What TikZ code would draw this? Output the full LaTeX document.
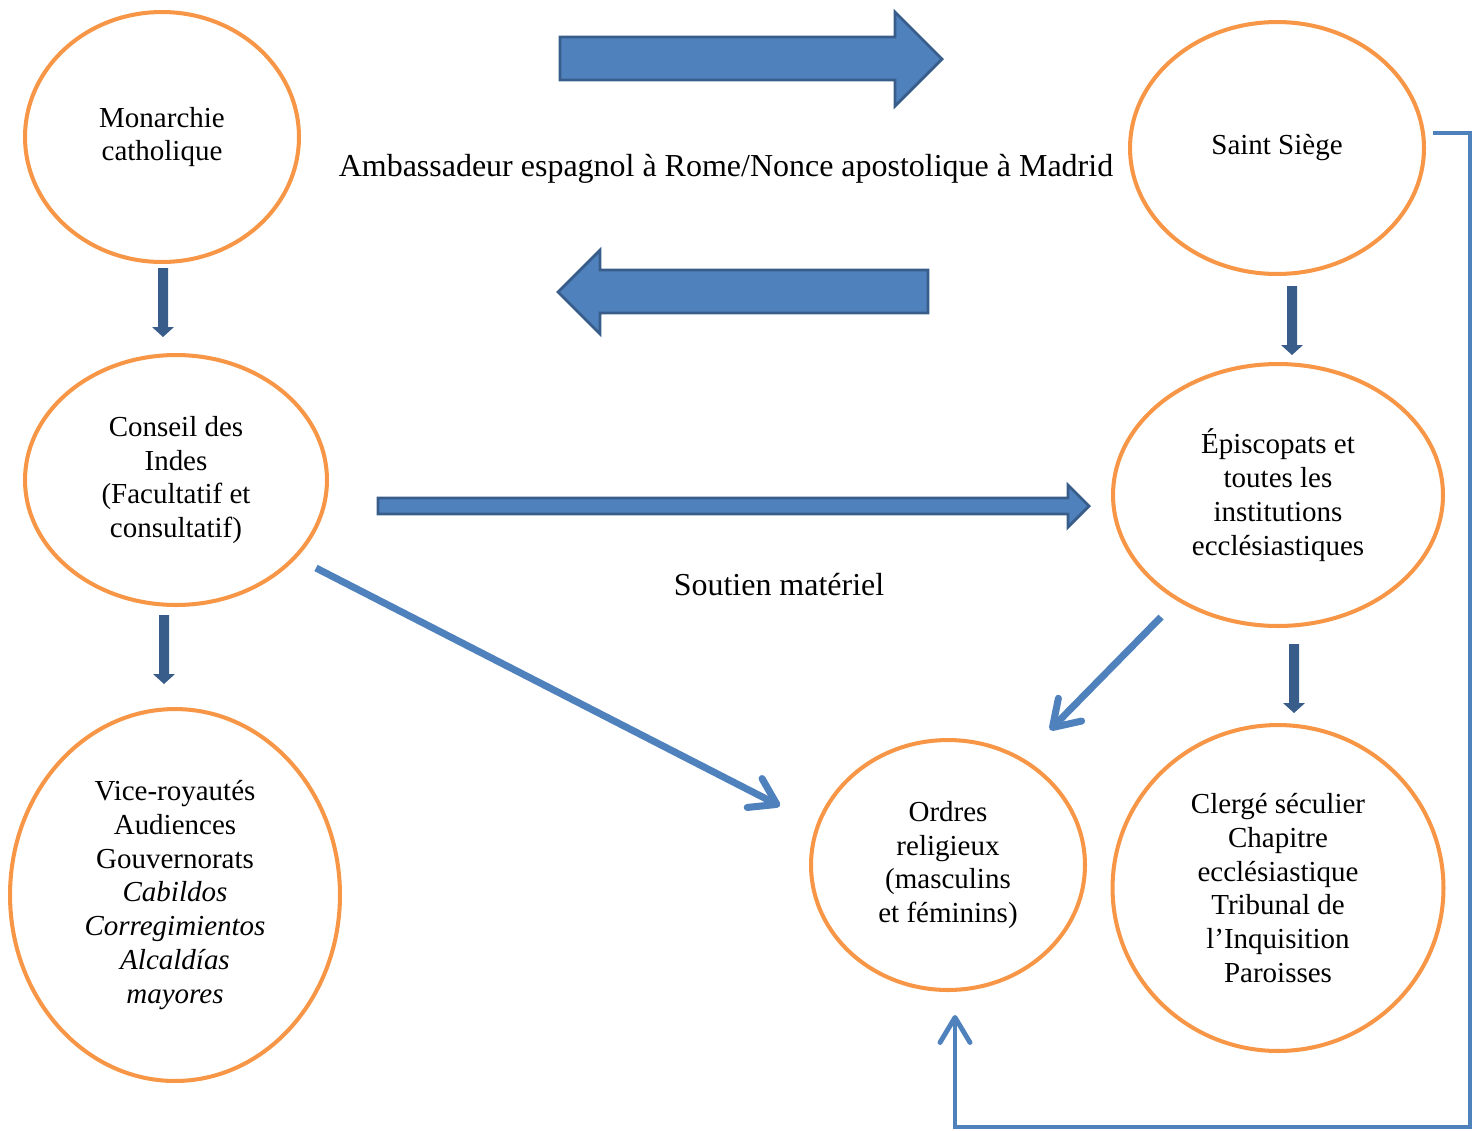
\documentclass[tikz,border=0pt]{standalone}
\usepackage{fontspec}
\setmainfont{Liberation Serif}
\usetikzlibrary{shapes.geometric,arrows.meta,calc}
\definecolor{orng}{HTML}{F79646}
\definecolor{blu}{HTML}{4F81BD}
\definecolor{dblu}{HTML}{385D8A}
\newcommand\smalldown[3]{%
  \fill[dblu] (#1-5,#2) -- (#1+5,#2) -- (#1+5,#3-10) -- (#1+11,#3-10) -- (#1,#3) -- (#1-11,#3-10) -- (#1-5,#3-10) -- cycle;}
\begin{document}
\begin{tikzpicture}[x=0.02cm,y=-0.02cm,
  oval/.style={ellipse,draw=orng,line width=2.3pt,inner sep=0pt,align=center,
    font=\fontsize{16.5}{19.3}\selectfont},
  lbl/.style={font=\fontsize{18.2}{21}\selectfont,inner sep=0pt},
  blk/.style={fill=blu,draw=dblu,line width=1.6pt,line join=miter},
  conn/.style={draw=blu,line width=4pt,-{Straight Barb[length=0.5cm,width=0.65cm,round]}},
  brk/.style={draw=blu,line width=2.8pt,line join=miter,-{Straight Barb[length=0.5cm,width=0.6cm,round]}},
]
\useasboundingbox (0,0) rectangle (1483,1130);

% ellipses
\node[oval,minimum width=5.48cm,minimum height=5.0cm] (mon) at (162,137) {Monarchie\\catholique};
\node[oval,minimum width=5.88cm,minimum height=5.04cm] (saint) at (1277,148) {Saint Siège};
\node[oval,minimum width=6.04cm,minimum height=5.0cm] (conseil) at (176,480) {Conseil des\\Indes\\(Facultatif et\\consultatif)};
\node[oval,minimum width=6.6cm,minimum height=5.24cm] (episc) at (1278,495) {Épiscopats et\\toutes les\\institutions\\ecclésiastiques};
\node[oval,minimum width=6.6cm,minimum height=7.44cm] (vice) at (175,895) {Vice-royautés\\Audiences\\Gouvernorats\\\textit{Cabildos}\\\textit{Corregimientos}\\\textit{Alcaldías}\\\textit{mayores}};
\node[oval,minimum width=5.48cm,minimum height=5.0cm] (ordres) at (948,865) {Ordres\\religieux\\(masculins\\et féminins)};
\node[oval,minimum width=6.62cm,minimum height=6.52cm] (clerge) at (1278,888) {Clergé séculier\\Chapitre\\ecclésiastique\\Tribunal de\\l’Inquisition\\Paroisses};

% labels
\node[lbl] (amb) at (726,169) {Ambassadeur espagnol à Rome/Nonce apostolique à Madrid};
\node[lbl] (sout) at (779,585) {Soutien matériel};

% big block arrows
\draw[blk] (560,37) -- (895,37) -- (895,12) -- (942,59) -- (895,106) -- (895,80) -- (560,80) -- cycle;
\draw[blk] (928,270) -- (600,270) -- (600,250) -- (558,292) -- (600,334) -- (600,313) -- (928,313) -- cycle;
\draw[blk] (378,498) -- (1068,498) -- (1068,485) -- (1089,506) -- (1068,527) -- (1068,514) -- (378,514) -- cycle;

% small dark arrows
\smalldown{163}{268}{337}
\smalldown{164}{615}{684}
\smalldown{1292}{286}{355}
\smalldown{1294}{644}{713}

% connectors
\draw[conn] ($(conseil)+(140,88)$) -- ($(ordres)+(-168,-59)$);
\draw[conn] ($(episc)+(-117,122)$) -- ($(ordres)+(102,-135)$);
\coordinate (bk1) at (1470,133);
\coordinate (bk2) at (1470,1127);
\draw[brk] ($(saint)+(156,-15)$) -- (bk1) -- (bk2) -| ($(ordres)+(7,150)$);
\end{tikzpicture}
\end{document}
